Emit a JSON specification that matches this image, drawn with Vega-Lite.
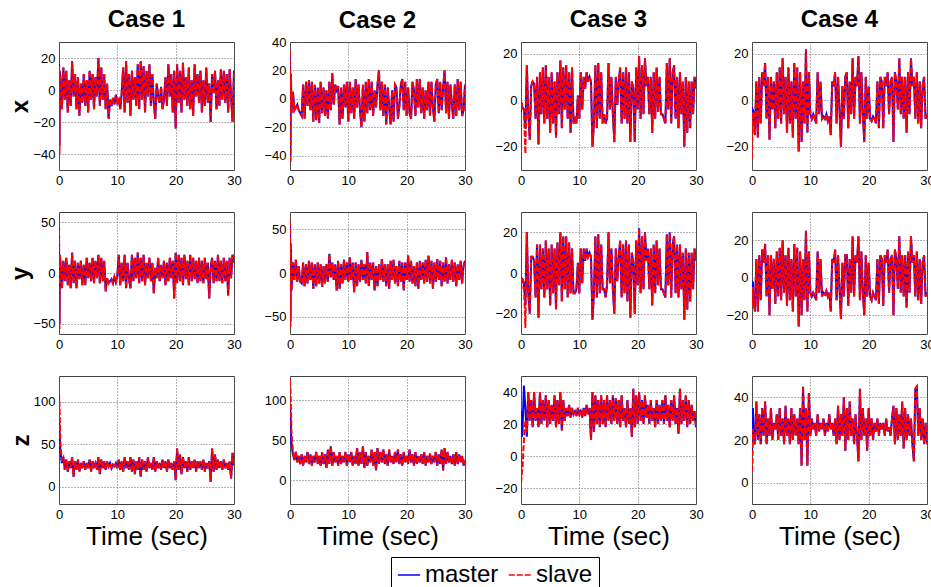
{
"$schema":"https://vega.github.io/schema/vega-lite/v6.json",
"autosize":{"type":"pad"},
"padding":{"left":8,"top":7,"right":0,"bottom":0},
"background":"#ffffff",
"datasets":{
"x1":[{"t":0,"m":20,"s":25},{"t":0.08,"m":-35,"s":-40},{"t":0.16,"m":10,"s":12},
{"t":0.25,"m":8,"s":8},{"t":0.5,"m":-12,"s":-12},{"t":0.75,"m":14,"s":14},{"t":1,"m":-6,"s":-6},{"t":1.25,"m":12,"s":12},{"t":1.5,"m":-14,"s":-14},{"t":1.75,"m":6,"s":6},{"t":2,"m":-10,"s":-10},
{"t":2.25,"m":18,"s":18},{"t":2.5,"m":-4,"s":-4},{"t":2.75,"m":10,"s":10},{"t":3,"m":-12,"s":-12},{"t":3.25,"m":8,"s":8},{"t":3.5,"m":-16,"s":-16},{"t":3.75,"m":4,"s":4},{"t":4,"m":-8,"s":-8},
{"t":4.25,"m":10,"s":10},{"t":4.5,"m":-10,"s":-10},{"t":4.75,"m":6,"s":6},{"t":5,"m":-14,"s":-14},{"t":5.25,"m":12,"s":12},{"t":5.5,"m":-6,"s":-6},{"t":5.75,"m":10,"s":10},{"t":6,"m":-12,"s":-12},
{"t":6.25,"m":8,"s":8},{"t":6.5,"m":-4,"s":-4},{"t":6.75,"m":20,"s":20},{"t":7,"m":-10,"s":-10},{"t":7.25,"m":14,"s":14},{"t":7.5,"m":-6,"s":-6},{"t":7.75,"m":10,"s":10},{"t":8,"m":-12,"s":-12},
{"t":8.25,"m":4,"s":4},{"t":8.5,"m":-18,"s":-18},{"t":8.75,"m":-6,"s":-6},{"t":9,"m":-10,"s":-10},{"t":9.25,"m":-5,"s":-5},{"t":9.5,"m":-9,"s":-9},{"t":9.75,"m":-3,"s":-3},{"t":10,"m":-8,"s":-8},
{"t":10.25,"m":-6,"s":-6},{"t":10.5,"m":-12,"s":-12},{"t":10.75,"m":-2,"s":-2},{"t":11,"m":14,"s":14},{"t":11.25,"m":-14,"s":-14},{"t":11.5,"m":18,"s":18},{"t":11.75,"m":-8,"s":-8},{"t":12,"m":10,"s":10},
{"t":12.25,"m":-16,"s":-16},{"t":12.5,"m":12,"s":12},{"t":12.75,"m":-6,"s":-6},{"t":13,"m":8,"s":8},{"t":13.25,"m":-10,"s":-10},{"t":13.5,"m":16,"s":16},{"t":13.75,"m":-12,"s":-12},{"t":14,"m":18,"s":18},
{"t":14.25,"m":-6,"s":-6},{"t":14.5,"m":15,"s":15},{"t":14.75,"m":-14,"s":-14},{"t":15,"m":12,"s":12},{"t":15.25,"m":-4,"s":-4},{"t":15.5,"m":16,"s":16},{"t":15.75,"m":-10,"s":-10},{"t":16,"m":10,"s":10},
{"t":16.25,"m":-8,"s":-8},{"t":16.5,"m":-18,"s":-18},{"t":16.75,"m":4,"s":4},{"t":17,"m":-4,"s":-4},{"t":17.25,"m":-8,"s":-8},{"t":17.5,"m":2,"s":2},{"t":17.75,"m":-12,"s":-12},{"t":18,"m":-6,"s":-6},
{"t":18.25,"m":8,"s":8},{"t":18.5,"m":-10,"s":-10},{"t":18.75,"m":16,"s":16},{"t":19,"m":-4,"s":-4},{"t":19.25,"m":10,"s":10},{"t":19.5,"m":-14,"s":-14},{"t":19.75,"m":12,"s":12},{"t":20,"m":-24,"s":-24},
{"t":20.25,"m":16,"s":16},{"t":20.5,"m":-8,"s":-8},{"t":20.75,"m":12,"s":12},{"t":21,"m":-14,"s":-14},{"t":21.25,"m":17,"s":17},{"t":21.5,"m":-6,"s":-6},{"t":21.75,"m":8,"s":8},{"t":22,"m":-10,"s":-10},
{"t":22.25,"m":14,"s":14},{"t":22.5,"m":-12,"s":-12},{"t":22.75,"m":6,"s":6},{"t":23,"m":-16,"s":-16},{"t":23.25,"m":16,"s":16},{"t":23.5,"m":-4,"s":-4},{"t":23.75,"m":10,"s":10},{"t":24,"m":-8,"s":-8},
{"t":24.25,"m":12,"s":12},{"t":24.5,"m":-14,"s":-14},{"t":24.75,"m":6,"s":6},{"t":25,"m":-10,"s":-10},{"t":25.25,"m":14,"s":14},{"t":25.5,"m":-8,"s":-8},{"t":25.75,"m":4,"s":4},{"t":26,"m":-20,"s":-20},
{"t":26.25,"m":10,"s":10},{"t":26.5,"m":-2,"s":-2},{"t":26.75,"m":12,"s":12},{"t":27,"m":-12,"s":-12},{"t":27.25,"m":6,"s":6},{"t":27.5,"m":-10,"s":-10},{"t":27.75,"m":13,"s":13},{"t":28,"m":-6,"s":-6},
{"t":28.25,"m":12,"s":12},{"t":28.5,"m":-8,"s":-8},{"t":28.75,"m":10,"s":10},{"t":29,"m":-14,"s":-14},{"t":29.25,"m":13,"s":13},{"t":29.5,"m":-4,"s":-4},{"t":29.75,"m":-20,"s":-20},{"t":30,"m":12,"s":12}],
"x2":[{"t":0,"m":30,"s":33},{"t":0.08,"m":-40,"s":-45},{"t":0.16,"m":15,"s":18},
{"t":0.25,"m":-10,"s":-10},{"t":0.5,"m":5,"s":5},{"t":0.75,"m":-8,"s":-8},{"t":1,"m":-6,"s":-6},{"t":1.25,"m":-4,"s":-4},{"t":1.5,"m":-8,"s":-8},{"t":1.75,"m":-10,"s":-10},{"t":2,"m":-12,"s":-12},
{"t":2.25,"m":10,"s":10},{"t":2.5,"m":-14,"s":-14},{"t":2.75,"m":12,"s":12},{"t":3,"m":-5,"s":-5},{"t":3.25,"m":13,"s":13},{"t":3.5,"m":-8,"s":-8},{"t":3.75,"m":12,"s":12},{"t":4,"m":-16,"s":-16},
{"t":4.25,"m":10,"s":10},{"t":4.5,"m":-15,"s":-15},{"t":4.75,"m":8,"s":8},{"t":5,"m":-17,"s":-17},{"t":5.25,"m":12,"s":12},{"t":5.5,"m":-10,"s":-10},{"t":5.75,"m":8,"s":8},{"t":6,"m":-12,"s":-12},
{"t":6.25,"m":6,"s":6},{"t":6.5,"m":-14,"s":-14},{"t":6.75,"m":12,"s":12},{"t":7,"m":-8,"s":-8},{"t":7.25,"m":18,"s":18},{"t":7.5,"m":-4,"s":-4},{"t":7.75,"m":10,"s":10},{"t":8,"m":6,"s":6},
{"t":8.25,"m":9,"s":9},{"t":8.5,"m":-18,"s":-18},{"t":8.75,"m":8,"s":8},{"t":9,"m":-14,"s":-14},{"t":9.25,"m":10,"s":10},{"t":9.5,"m":-6,"s":-6},{"t":9.75,"m":12,"s":12},{"t":10,"m":-16,"s":-16},
{"t":10.25,"m":12,"s":12},{"t":10.5,"m":-10,"s":-10},{"t":10.75,"m":8,"s":8},{"t":11,"m":-14,"s":-14},{"t":11.25,"m":14,"s":14},{"t":11.5,"m":-6,"s":-6},{"t":11.75,"m":10,"s":10},{"t":12,"m":-8,"s":-8},
{"t":12.25,"m":-20,"s":-20},{"t":12.5,"m":10,"s":10},{"t":12.75,"m":-16,"s":-16},{"t":13,"m":12,"s":12},{"t":13.25,"m":-10,"s":-10},{"t":13.5,"m":14,"s":14},{"t":13.75,"m":-8,"s":-8},{"t":14,"m":12,"s":12},
{"t":14.25,"m":-12,"s":-12},{"t":14.5,"m":6,"s":6},{"t":14.75,"m":-6,"s":-6},{"t":15,"m":10,"s":10},{"t":15.25,"m":20,"s":20},{"t":15.5,"m":-8,"s":-8},{"t":15.75,"m":12,"s":12},{"t":16,"m":-12,"s":-12},
{"t":16.25,"m":10,"s":10},{"t":16.5,"m":-18,"s":-18},{"t":16.75,"m":8,"s":8},{"t":17,"m":-6,"s":-6},{"t":17.25,"m":-18,"s":-18},{"t":17.5,"m":6,"s":6},{"t":17.75,"m":-16,"s":-16},{"t":18,"m":10,"s":10},
{"t":18.25,"m":8,"s":8},{"t":18.5,"m":-14,"s":-14},{"t":18.75,"m":-5,"s":-5},{"t":19,"m":10,"s":10},{"t":19.25,"m":14,"s":14},{"t":19.5,"m":-8,"s":-8},{"t":19.75,"m":12,"s":12},{"t":20,"m":-12,"s":-12},
{"t":20.25,"m":8,"s":8},{"t":20.5,"m":-10,"s":-10},{"t":20.75,"m":-14,"s":-14},{"t":21,"m":12,"s":12},{"t":21.25,"m":6,"s":6},{"t":21.5,"m":-12,"s":-12},{"t":21.75,"m":14,"s":14},{"t":22,"m":-6,"s":-6},
{"t":22.25,"m":14,"s":14},{"t":22.5,"m":-10,"s":-10},{"t":22.75,"m":8,"s":8},{"t":23,"m":-14,"s":-14},{"t":23.25,"m":6,"s":6},{"t":23.5,"m":-8,"s":-8},{"t":23.75,"m":12,"s":12},{"t":24,"m":-12,"s":-12},
{"t":24.25,"m":12,"s":12},{"t":24.5,"m":-6,"s":-6},{"t":24.75,"m":-16,"s":-16},{"t":25,"m":10,"s":10},{"t":25.25,"m":14,"s":14},{"t":25.5,"m":-10,"s":-10},{"t":25.75,"m":12,"s":12},{"t":26,"m":-8,"s":-8},
{"t":26.25,"m":8,"s":8},{"t":26.5,"m":20,"s":20},{"t":26.75,"m":-10,"s":-10},{"t":27,"m":12,"s":12},{"t":27.25,"m":-14,"s":-14},{"t":27.5,"m":10,"s":10},{"t":27.75,"m":-4,"s":-4},{"t":28,"m":-14,"s":-14},
{"t":28.25,"m":10,"s":10},{"t":28.5,"m":-12,"s":-12},{"t":28.75,"m":14,"s":14},{"t":29,"m":-8,"s":-8},{"t":29.25,"m":12,"s":12},{"t":29.5,"m":-12,"s":-12},{"t":29.75,"m":-8,"s":-8},{"t":30,"m":10,"s":10}],
"x3":[{"t":0,"m":-5,"s":-2},{"t":0.08,"m":-2,"s":-4},{"t":0.16,"m":-3,"s":-1},
{"t":0.25,"m":-3,"s":-3},{"t":0.5,"m":-4,"s":-4},{"t":0.75,"m":-12,"s":-23},{"t":1,"m":15,"s":15},{"t":1.25,"m":-6,"s":-6},{"t":1.5,"m":-17,"s":-17},{"t":1.75,"m":6,"s":6},{"t":2,"m":8,"s":8},
{"t":2.25,"m":7,"s":7},{"t":2.5,"m":-8,"s":-8},{"t":2.75,"m":10,"s":10},{"t":3,"m":-19,"s":-19},{"t":3.25,"m":12,"s":12},{"t":3.5,"m":-6,"s":-6},{"t":3.75,"m":14,"s":14},{"t":4,"m":-10,"s":-10},
{"t":4.25,"m":15,"s":15},{"t":4.5,"m":-8,"s":-8},{"t":4.75,"m":10,"s":10},{"t":5,"m":-14,"s":-14},{"t":5.25,"m":12,"s":12},{"t":5.5,"m":-10,"s":-10},{"t":5.75,"m":8,"s":8},{"t":6,"m":-16,"s":-16},
{"t":6.25,"m":12,"s":12},{"t":6.5,"m":-6,"s":-6},{"t":6.75,"m":17,"s":17},{"t":7,"m":-12,"s":-12},{"t":7.25,"m":14,"s":14},{"t":7.5,"m":-4,"s":-4},{"t":7.75,"m":15,"s":15},{"t":8,"m":-8,"s":-8},
{"t":8.25,"m":12,"s":12},{"t":8.5,"m":-14,"s":-14},{"t":8.75,"m":14,"s":14},{"t":9,"m":-10,"s":-10},{"t":9.25,"m":-8,"s":-8},{"t":9.5,"m":-10,"s":-10},{"t":9.75,"m":2,"s":2},{"t":10,"m":-8,"s":-8},
{"t":10.25,"m":12,"s":12},{"t":10.5,"m":-4,"s":-4},{"t":10.75,"m":10,"s":10},{"t":11,"m":5,"s":5},{"t":11.25,"m":12,"s":12},{"t":11.5,"m":8,"s":8},{"t":11.75,"m":10,"s":10},{"t":12,"m":8,"s":8},
{"t":12.25,"m":-20,"s":-20},{"t":12.5,"m":-10,"s":-10},{"t":12.75,"m":15,"s":15},{"t":13,"m":-12,"s":-12},{"t":13.25,"m":16,"s":16},{"t":13.5,"m":-8,"s":-8},{"t":13.75,"m":12,"s":12},{"t":14,"m":-10,"s":-10},
{"t":14.25,"m":-6,"s":-6},{"t":14.5,"m":-10,"s":-10},{"t":14.75,"m":-8,"s":-8},{"t":15,"m":16,"s":16},{"t":15.25,"m":-4,"s":-4},{"t":15.5,"m":10,"s":10},{"t":15.75,"m":-6,"s":-6},{"t":16,"m":-18,"s":-18},
{"t":16.25,"m":10,"s":10},{"t":16.5,"m":-2,"s":-2},{"t":16.75,"m":8,"s":8},{"t":17,"m":14,"s":14},{"t":17.25,"m":-10,"s":-10},{"t":17.5,"m":12,"s":12},{"t":17.75,"m":-8,"s":-8},{"t":18,"m":14,"s":14},
{"t":18.25,"m":-10,"s":-10},{"t":18.5,"m":12,"s":12},{"t":18.75,"m":-18,"s":-18},{"t":19,"m":8,"s":8},{"t":19.25,"m":5,"s":5},{"t":19.5,"m":-18,"s":-18},{"t":19.75,"m":14,"s":14},{"t":20,"m":-4,"s":-4},
{"t":20.25,"m":19,"s":19},{"t":20.5,"m":-8,"s":-8},{"t":20.75,"m":15,"s":15},{"t":21,"m":-6,"s":-6},{"t":21.25,"m":18,"s":18},{"t":21.5,"m":6,"s":6},{"t":21.75,"m":10,"s":10},{"t":22,"m":-6,"s":-6},
{"t":22.25,"m":10,"s":10},{"t":22.5,"m":-14,"s":-14},{"t":22.75,"m":12,"s":12},{"t":23,"m":-8,"s":-8},{"t":23.25,"m":14,"s":14},{"t":23.5,"m":-5,"s":-5},{"t":23.75,"m":10,"s":10},{"t":24,"m":-6,"s":-6},
{"t":24.25,"m":-6,"s":-6},{"t":24.5,"m":-8,"s":-8},{"t":24.75,"m":-10,"s":-10},{"t":25,"m":16,"s":16},{"t":25.25,"m":-4,"s":-4},{"t":25.5,"m":18,"s":18},{"t":25.75,"m":-10,"s":-10},{"t":26,"m":12,"s":12},
{"t":26.25,"m":15,"s":15},{"t":26.5,"m":-8,"s":-8},{"t":26.75,"m":10,"s":10},{"t":27,"m":-12,"s":-12},{"t":27.25,"m":12,"s":12},{"t":27.5,"m":-6,"s":-6},{"t":27.75,"m":8,"s":8},{"t":28,"m":-20,"s":-20},
{"t":28.25,"m":10,"s":10},{"t":28.5,"m":-14,"s":-14},{"t":28.75,"m":8,"s":8},{"t":29,"m":-12,"s":-12},{"t":29.25,"m":8,"s":8},{"t":29.5,"m":-6,"s":-6},{"t":29.75,"m":10,"s":10},{"t":30,"m":5,"s":5}],
"x4":[{"t":0,"m":-3,"s":-25},{"t":0.08,"m":-5,"s":-12},{"t":0.16,"m":-4,"s":-6},
{"t":0.25,"m":-5,"s":-5},{"t":0.5,"m":-15,"s":-15},{"t":0.75,"m":8,"s":8},{"t":1,"m":-16,"s":-16},{"t":1.25,"m":10,"s":10},{"t":1.5,"m":-10,"s":-10},{"t":1.75,"m":12,"s":12},{"t":2,"m":6,"s":6},
{"t":2.25,"m":16,"s":16},{"t":2.5,"m":-8,"s":-8},{"t":2.75,"m":10,"s":10},{"t":3,"m":-17,"s":-17},{"t":3.25,"m":10,"s":10},{"t":3.5,"m":-4,"s":-4},{"t":3.75,"m":8,"s":8},{"t":4,"m":-12,"s":-12},
{"t":4.25,"m":12,"s":12},{"t":4.5,"m":-8,"s":-8},{"t":4.75,"m":14,"s":14},{"t":5,"m":-10,"s":-10},{"t":5.25,"m":18,"s":18},{"t":5.5,"m":-6,"s":-6},{"t":5.75,"m":10,"s":10},{"t":6,"m":-14,"s":-14},
{"t":6.25,"m":14,"s":14},{"t":6.5,"m":-10,"s":-10},{"t":6.75,"m":8,"s":8},{"t":7,"m":-16,"s":-16},{"t":7.25,"m":16,"s":16},{"t":7.5,"m":-8,"s":-8},{"t":7.75,"m":14,"s":14},{"t":8,"m":-22,"s":-22},
{"t":8.25,"m":12,"s":12},{"t":8.5,"m":-18,"s":-18},{"t":8.75,"m":8,"s":8},{"t":9,"m":-10,"s":-10},{"t":9.25,"m":21,"s":22},{"t":9.5,"m":-14,"s":-14},{"t":9.75,"m":12,"s":12},{"t":10,"m":-6,"s":-6},
{"t":10.25,"m":-8,"s":-8},{"t":10.5,"m":-6,"s":-6},{"t":10.75,"m":-8,"s":-8},{"t":11,"m":-10,"s":-10},{"t":11.25,"m":12,"s":12},{"t":11.5,"m":-6,"s":-6},{"t":11.75,"m":8,"s":8},{"t":12,"m":-8,"s":-8},
{"t":12.25,"m":-7,"s":-7},{"t":12.5,"m":-8,"s":-8},{"t":12.75,"m":-6,"s":-6},{"t":13,"m":-9,"s":-9},{"t":13.25,"m":-7,"s":-7},{"t":13.5,"m":-15,"s":-15},{"t":13.75,"m":8,"s":8},{"t":14,"m":6,"s":6},
{"t":14.25,"m":12,"s":12},{"t":14.5,"m":-10,"s":-10},{"t":14.75,"m":10,"s":10},{"t":15,"m":-4,"s":-4},{"t":15.25,"m":-20,"s":-20},{"t":15.5,"m":6,"s":6},{"t":15.75,"m":-8,"s":-8},{"t":16,"m":10,"s":10},
{"t":16.25,"m":12,"s":12},{"t":16.5,"m":-12,"s":-12},{"t":16.75,"m":8,"s":8},{"t":17,"m":-6,"s":-6},{"t":17.25,"m":18,"s":18},{"t":17.5,"m":-8,"s":-8},{"t":17.75,"m":10,"s":10},{"t":18,"m":6,"s":6},
{"t":18.25,"m":19,"s":19},{"t":18.5,"m":-10,"s":-10},{"t":18.75,"m":12,"s":12},{"t":19,"m":-6,"s":-6},{"t":19.25,"m":-18,"s":-18},{"t":19.5,"m":10,"s":10},{"t":19.75,"m":-8,"s":-8},{"t":20,"m":6,"s":6},
{"t":20.25,"m":-8,"s":-8},{"t":20.5,"m":-9,"s":-9},{"t":20.75,"m":-7,"s":-7},{"t":21,"m":-8,"s":-8},{"t":21.25,"m":-10,"s":-10},{"t":21.5,"m":8,"s":8},{"t":21.75,"m":-12,"s":-12},{"t":22,"m":10,"s":10},
{"t":22.25,"m":8,"s":8},{"t":22.5,"m":-12,"s":-12},{"t":22.75,"m":10,"s":10},{"t":23,"m":6,"s":6},{"t":23.25,"m":12,"s":12},{"t":23.5,"m":-6,"s":-6},{"t":23.75,"m":8,"s":8},{"t":24,"m":10,"s":10},
{"t":24.25,"m":-18,"s":-18},{"t":24.5,"m":12,"s":12},{"t":24.75,"m":8,"s":8},{"t":25,"m":-4,"s":-4},{"t":25.25,"m":18,"s":18},{"t":25.5,"m":-6,"s":-6},{"t":25.75,"m":10,"s":10},{"t":26,"m":-8,"s":-8},
{"t":26.25,"m":10,"s":10},{"t":26.5,"m":-14,"s":-14},{"t":26.75,"m":12,"s":12},{"t":27,"m":-6,"s":-6},{"t":27.25,"m":18,"s":18},{"t":27.5,"m":6,"s":6},{"t":27.75,"m":10,"s":10},{"t":28,"m":-8,"s":-8},
{"t":28.25,"m":12,"s":12},{"t":28.5,"m":-10,"s":-10},{"t":28.75,"m":8,"s":8},{"t":29,"m":-12,"s":-12},{"t":29.25,"m":6,"s":6},{"t":29.5,"m":10,"s":10},{"t":29.75,"m":-8,"s":-8},{"t":30,"m":-6,"s":-6}],
"y1":[{"t":0,"m":45,"s":50},{"t":0.08,"m":-50,"s":-55},{"t":0.16,"m":15,"s":18},
{"t":0.25,"m":10,"s":10},{"t":0.5,"m":-15,"s":-15},{"t":0.75,"m":12,"s":12},{"t":1,"m":-8,"s":-8},{"t":1.25,"m":15,"s":15},{"t":1.5,"m":-12,"s":-12},{"t":1.75,"m":8,"s":8},{"t":2,"m":-15,"s":-15},
{"t":2.25,"m":20,"s":20},{"t":2.5,"m":-10,"s":-10},{"t":2.75,"m":12,"s":12},{"t":3,"m":-15,"s":-15},{"t":3.25,"m":10,"s":10},{"t":3.5,"m":-6,"s":-6},{"t":3.75,"m":12,"s":12},{"t":4,"m":-12,"s":-12},
{"t":4.25,"m":8,"s":8},{"t":4.5,"m":-12,"s":-12},{"t":4.75,"m":15,"s":15},{"t":5,"m":-5,"s":-5},{"t":5.25,"m":10,"s":10},{"t":5.5,"m":-8,"s":-8},{"t":5.75,"m":15,"s":15},{"t":6,"m":-10,"s":-10},
{"t":6.25,"m":12,"s":12},{"t":6.5,"m":-5,"s":-5},{"t":6.75,"m":18,"s":18},{"t":7,"m":-10,"s":-10},{"t":7.25,"m":15,"s":15},{"t":7.5,"m":-8,"s":-8},{"t":7.75,"m":12,"s":12},{"t":8,"m":-18,"s":-18},
{"t":8.25,"m":-5,"s":-5},{"t":8.5,"m":-10,"s":-10},{"t":8.75,"m":-8,"s":-8},{"t":9,"m":-6,"s":-6},{"t":9.25,"m":-10,"s":-10},{"t":9.5,"m":-4,"s":-4},{"t":9.75,"m":-9,"s":-9},{"t":10,"m":-3,"s":-3},
{"t":10.25,"m":18,"s":18},{"t":10.5,"m":-12,"s":-12},{"t":10.75,"m":10,"s":10},{"t":11,"m":-8,"s":-8},{"t":11.25,"m":18,"s":18},{"t":11.5,"m":-15,"s":-15},{"t":11.75,"m":10,"s":10},{"t":12,"m":-6,"s":-6},
{"t":12.25,"m":-15,"s":-15},{"t":12.5,"m":18,"s":18},{"t":12.75,"m":-8,"s":-8},{"t":13,"m":15,"s":15},{"t":13.25,"m":-5,"s":-5},{"t":13.5,"m":20,"s":20},{"t":13.75,"m":-10,"s":-10},{"t":14,"m":15,"s":15},
{"t":14.25,"m":-8,"s":-8},{"t":14.5,"m":18,"s":18},{"t":14.75,"m":-12,"s":-12},{"t":15,"m":10,"s":10},{"t":15.25,"m":-5,"s":-5},{"t":15.5,"m":15,"s":15},{"t":15.75,"m":-8,"s":-8},{"t":16,"m":10,"s":10},
{"t":16.25,"m":-20,"s":-20},{"t":16.5,"m":5,"s":5},{"t":16.75,"m":-5,"s":-5},{"t":17,"m":15,"s":15},{"t":17.25,"m":-8,"s":-8},{"t":17.5,"m":8,"s":8},{"t":17.75,"m":-5,"s":-5},{"t":18,"m":12,"s":12},
{"t":18.25,"m":-12,"s":-12},{"t":18.5,"m":10,"s":10},{"t":18.75,"m":-8,"s":-8},{"t":19,"m":15,"s":15},{"t":19.25,"m":-5,"s":-5},{"t":19.5,"m":12,"s":12},{"t":19.75,"m":-25,"s":-25},{"t":20,"m":20,"s":20},
{"t":20.25,"m":-10,"s":-10},{"t":20.5,"m":18,"s":18},{"t":20.75,"m":-8,"s":-8},{"t":21,"m":15,"s":15},{"t":21.25,"m":-12,"s":-12},{"t":21.5,"m":18,"s":18},{"t":21.75,"m":-6,"s":-6},{"t":22,"m":12,"s":12},
{"t":22.25,"m":-12,"s":-12},{"t":22.5,"m":18,"s":18},{"t":22.75,"m":-8,"s":-8},{"t":23,"m":15,"s":15},{"t":23.25,"m":-6,"s":-6},{"t":23.5,"m":12,"s":12},{"t":23.75,"m":-10,"s":-10},{"t":24,"m":15,"s":15},
{"t":24.25,"m":-8,"s":-8},{"t":24.5,"m":12,"s":12},{"t":24.75,"m":-10,"s":-10},{"t":25,"m":15,"s":15},{"t":25.25,"m":-6,"s":-6},{"t":25.5,"m":10,"s":10},{"t":25.75,"m":-25,"s":-25},{"t":26,"m":5,"s":5},
{"t":26.25,"m":15,"s":15},{"t":26.5,"m":-10,"s":-10},{"t":26.75,"m":12,"s":12},{"t":27,"m":-8,"s":-8},{"t":27.25,"m":18,"s":18},{"t":27.5,"m":-8,"s":-8},{"t":27.75,"m":12,"s":12},{"t":28,"m":-10,"s":-10},
{"t":28.25,"m":15,"s":15},{"t":28.5,"m":-8,"s":-8},{"t":28.75,"m":12,"s":12},{"t":29,"m":-22,"s":-22},{"t":29.25,"m":15,"s":15},{"t":29.5,"m":-5,"s":-5},{"t":29.75,"m":18,"s":18},{"t":30,"m":10,"s":10}],
"y2":[{"t":0,"m":55,"s":60},{"t":0.08,"m":-55,"s":-62},{"t":0.16,"m":30,"s":35},
{"t":0.25,"m":-20,"s":-20},{"t":0.5,"m":12,"s":12},{"t":0.75,"m":-8,"s":-8},{"t":1,"m":15,"s":15},{"t":1.25,"m":-10,"s":-10},{"t":1.5,"m":8,"s":8},{"t":1.75,"m":-10,"s":-10},{"t":2,"m":-12,"s":-12},
{"t":2.25,"m":12,"s":12},{"t":2.5,"m":-15,"s":-15},{"t":2.75,"m":10,"s":10},{"t":3,"m":-12,"s":-12},{"t":3.25,"m":14,"s":14},{"t":3.5,"m":-8,"s":-8},{"t":3.75,"m":12,"s":12},{"t":4,"m":-18,"s":-18},
{"t":4.25,"m":10,"s":10},{"t":4.5,"m":-15,"s":-15},{"t":4.75,"m":12,"s":12},{"t":5,"m":-12,"s":-12},{"t":5.25,"m":10,"s":10},{"t":5.5,"m":-16,"s":-16},{"t":5.75,"m":8,"s":8},{"t":6,"m":-12,"s":-12},
{"t":6.25,"m":10,"s":10},{"t":6.5,"m":-10,"s":-10},{"t":6.75,"m":22,"s":22},{"t":7,"m":-5,"s":-5},{"t":7.25,"m":12,"s":12},{"t":7.5,"m":-8,"s":-8},{"t":7.75,"m":10,"s":10},{"t":8,"m":-20,"s":-20},
{"t":8.25,"m":14,"s":14},{"t":8.5,"m":-18,"s":-18},{"t":8.75,"m":10,"s":10},{"t":9,"m":-12,"s":-12},{"t":9.25,"m":15,"s":15},{"t":9.5,"m":-8,"s":-8},{"t":9.75,"m":12,"s":12},{"t":10,"m":-10,"s":-10},
{"t":10.25,"m":18,"s":18},{"t":10.5,"m":-8,"s":-8},{"t":10.75,"m":12,"s":12},{"t":11,"m":-22,"s":-22},{"t":11.25,"m":12,"s":12},{"t":11.5,"m":-15,"s":-15},{"t":11.75,"m":10,"s":10},{"t":12,"m":-10,"s":-10},
{"t":12.25,"m":15,"s":15},{"t":12.5,"m":-8,"s":-8},{"t":12.75,"m":10,"s":10},{"t":13,"m":-12,"s":-12},{"t":13.25,"m":24,"s":24},{"t":13.5,"m":-15,"s":-15},{"t":13.75,"m":12,"s":12},{"t":14,"m":-8,"s":-8},
{"t":14.25,"m":12,"s":12},{"t":14.5,"m":-20,"s":-20},{"t":14.75,"m":8,"s":8},{"t":15,"m":-15,"s":-15},{"t":15.25,"m":10,"s":10},{"t":15.5,"m":-8,"s":-8},{"t":15.75,"m":16,"s":16},{"t":16,"m":-10,"s":-10},
{"t":16.25,"m":10,"s":10},{"t":16.5,"m":-15,"s":-15},{"t":16.75,"m":10,"s":10},{"t":17,"m":-18,"s":-18},{"t":17.25,"m":14,"s":14},{"t":17.5,"m":-8,"s":-8},{"t":17.75,"m":15,"s":15},{"t":18,"m":-12,"s":-12},
{"t":18.25,"m":8,"s":8},{"t":18.5,"m":-15,"s":-15},{"t":18.75,"m":14,"s":14},{"t":19,"m":-10,"s":-10},{"t":19.25,"m":12,"s":12},{"t":19.5,"m":-20,"s":-20},{"t":19.75,"m":12,"s":12},{"t":20,"m":-8,"s":-8},
{"t":20.25,"m":20,"s":20},{"t":20.5,"m":-10,"s":-10},{"t":20.75,"m":14,"s":14},{"t":21,"m":-12,"s":-12},{"t":21.25,"m":8,"s":8},{"t":21.5,"m":-15,"s":-15},{"t":21.75,"m":12,"s":12},{"t":22,"m":-18,"s":-18},
{"t":22.25,"m":14,"s":14},{"t":22.5,"m":-8,"s":-8},{"t":22.75,"m":12,"s":12},{"t":23,"m":-12,"s":-12},{"t":23.25,"m":15,"s":15},{"t":23.5,"m":-10,"s":-10},{"t":23.75,"m":20,"s":20},{"t":24,"m":-12,"s":-12},
{"t":24.25,"m":14,"s":14},{"t":24.5,"m":-18,"s":-18},{"t":24.75,"m":12,"s":12},{"t":25,"m":-10,"s":-10},{"t":25.25,"m":16,"s":16},{"t":25.5,"m":-8,"s":-8},{"t":25.75,"m":14,"s":14},{"t":26,"m":-15,"s":-15},
{"t":26.25,"m":12,"s":12},{"t":26.5,"m":-10,"s":-10},{"t":26.75,"m":18,"s":18},{"t":27,"m":-12,"s":-12},{"t":27.25,"m":10,"s":10},{"t":27.5,"m":-8,"s":-8},{"t":27.75,"m":15,"s":15},{"t":28,"m":-10,"s":-10},
{"t":28.25,"m":12,"s":12},{"t":28.5,"m":-15,"s":-15},{"t":28.75,"m":10,"s":10},{"t":29,"m":-8,"s":-8},{"t":29.25,"m":14,"s":14},{"t":29.5,"m":-12,"s":-12},{"t":29.75,"m":8,"s":8},{"t":30,"m":14,"s":14}],
"y3":[{"t":0,"m":-2,"s":-3},{"t":0.08,"m":-5,"s":-8},{"t":0.16,"m":-3,"s":-2},
{"t":0.25,"m":-3,"s":-3},{"t":0.5,"m":-5,"s":-5},{"t":0.75,"m":-15,"s":-27},{"t":1,"m":20,"s":20},{"t":1.25,"m":-10,"s":-10},{"t":1.5,"m":-20,"s":-20},{"t":1.75,"m":8,"s":8},{"t":2,"m":8,"s":8},
{"t":2.25,"m":6,"s":6},{"t":2.5,"m":-12,"s":-12},{"t":2.75,"m":14,"s":14},{"t":3,"m":-22,"s":-22},{"t":3.25,"m":14,"s":14},{"t":3.5,"m":-8,"s":-8},{"t":3.75,"m":12,"s":12},{"t":4,"m":-12,"s":-12},
{"t":4.25,"m":16,"s":16},{"t":4.5,"m":-8,"s":-8},{"t":4.75,"m":12,"s":12},{"t":5,"m":-16,"s":-16},{"t":5.25,"m":14,"s":14},{"t":5.5,"m":-10,"s":-10},{"t":5.75,"m":12,"s":12},{"t":6,"m":-18,"s":-18},
{"t":6.25,"m":15,"s":15},{"t":6.5,"m":-6,"s":-6},{"t":6.75,"m":20,"s":20},{"t":7,"m":-14,"s":-14},{"t":7.25,"m":18,"s":18},{"t":7.5,"m":-8,"s":-8},{"t":7.75,"m":18,"s":18},{"t":8,"m":-12,"s":-12},
{"t":8.25,"m":15,"s":15},{"t":8.5,"m":-10,"s":-10},{"t":8.75,"m":12,"s":12},{"t":9,"m":-10,"s":-10},{"t":9.25,"m":-10,"s":-10},{"t":9.5,"m":-8,"s":-8},{"t":9.75,"m":5,"s":5},{"t":10,"m":-10,"s":-10},
{"t":10.25,"m":12,"s":12},{"t":10.5,"m":-5,"s":-5},{"t":10.75,"m":12,"s":12},{"t":11,"m":6,"s":6},{"t":11.25,"m":12,"s":12},{"t":11.5,"m":8,"s":8},{"t":11.75,"m":10,"s":10},{"t":12,"m":8,"s":8},
{"t":12.25,"m":-23,"s":-23},{"t":12.5,"m":-10,"s":-10},{"t":12.75,"m":18,"s":18},{"t":13,"m":-12,"s":-12},{"t":13.25,"m":19,"s":19},{"t":13.5,"m":-10,"s":-10},{"t":13.75,"m":14,"s":14},{"t":14,"m":-8,"s":-8},
{"t":14.25,"m":-8,"s":-8},{"t":14.5,"m":-12,"s":-12},{"t":14.75,"m":-6,"s":-6},{"t":15,"m":20,"s":20},{"t":15.25,"m":-5,"s":-5},{"t":15.5,"m":12,"s":12},{"t":15.75,"m":-8,"s":-8},{"t":16,"m":-20,"s":-20},
{"t":16.25,"m":12,"s":12},{"t":16.5,"m":-4,"s":-4},{"t":16.75,"m":8,"s":8},{"t":17,"m":16,"s":16},{"t":17.25,"m":-12,"s":-12},{"t":17.5,"m":14,"s":14},{"t":17.75,"m":-10,"s":-10},{"t":18,"m":16,"s":16},
{"t":18.25,"m":-14,"s":-14},{"t":18.5,"m":14,"s":14},{"t":18.75,"m":-22,"s":-22},{"t":19,"m":10,"s":10},{"t":19.25,"m":5,"s":5},{"t":19.5,"m":-20,"s":-20},{"t":19.75,"m":16,"s":16},{"t":20,"m":-6,"s":-6},
{"t":20.25,"m":22,"s":22},{"t":20.5,"m":-10,"s":-10},{"t":20.75,"m":18,"s":18},{"t":21,"m":-8,"s":-8},{"t":21.25,"m":20,"s":20},{"t":21.5,"m":6,"s":6},{"t":21.75,"m":12,"s":12},{"t":22,"m":-8,"s":-8},
{"t":22.25,"m":12,"s":12},{"t":22.5,"m":-16,"s":-16},{"t":22.75,"m":14,"s":14},{"t":23,"m":-10,"s":-10},{"t":23.25,"m":16,"s":16},{"t":23.5,"m":-6,"s":-6},{"t":23.75,"m":12,"s":12},{"t":24,"m":-8,"s":-8},
{"t":24.25,"m":-8,"s":-8},{"t":24.5,"m":-10,"s":-10},{"t":24.75,"m":-12,"s":-12},{"t":25,"m":19,"s":19},{"t":25.25,"m":-6,"s":-6},{"t":25.5,"m":20,"s":20},{"t":25.75,"m":-12,"s":-12},{"t":26,"m":14,"s":14},
{"t":26.25,"m":18,"s":18},{"t":26.5,"m":-10,"s":-10},{"t":26.75,"m":14,"s":14},{"t":27,"m":-12,"s":-12},{"t":27.25,"m":14,"s":14},{"t":27.5,"m":-8,"s":-8},{"t":27.75,"m":10,"s":10},{"t":28,"m":-23,"s":-23},
{"t":28.25,"m":12,"s":12},{"t":28.5,"m":-18,"s":-18},{"t":28.75,"m":10,"s":10},{"t":29,"m":-14,"s":-14},{"t":29.25,"m":10,"s":10},{"t":29.5,"m":-8,"s":-8},{"t":29.75,"m":12,"s":12},{"t":30,"m":6,"s":6}],
"y4":[{"t":0,"m":-5,"s":-12},{"t":0.08,"m":-10,"s":-15},{"t":0.16,"m":-2,"s":-5},
{"t":0.25,"m":-12,"s":-12},{"t":0.5,"m":-18,"s":-18},{"t":0.75,"m":10,"s":10},{"t":1,"m":-18,"s":-18},{"t":1.25,"m":12,"s":12},{"t":1.5,"m":-12,"s":-12},{"t":1.75,"m":15,"s":15},{"t":2,"m":8,"s":8},
{"t":2.25,"m":18,"s":18},{"t":2.5,"m":-10,"s":-10},{"t":2.75,"m":12,"s":12},{"t":3,"m":-20,"s":-20},{"t":3.25,"m":12,"s":12},{"t":3.5,"m":-6,"s":-6},{"t":3.75,"m":10,"s":10},{"t":4,"m":-14,"s":-14},
{"t":4.25,"m":14,"s":14},{"t":4.5,"m":-10,"s":-10},{"t":4.75,"m":16,"s":16},{"t":5,"m":-12,"s":-12},{"t":5.25,"m":20,"s":20},{"t":5.5,"m":-8,"s":-8},{"t":5.75,"m":12,"s":12},{"t":6,"m":-15,"s":-15},
{"t":6.25,"m":16,"s":16},{"t":6.5,"m":-12,"s":-12},{"t":6.75,"m":10,"s":10},{"t":7,"m":-18,"s":-18},{"t":7.25,"m":18,"s":18},{"t":7.5,"m":-10,"s":-10},{"t":7.75,"m":16,"s":16},{"t":8,"m":-26,"s":-26},
{"t":8.25,"m":14,"s":14},{"t":8.5,"m":-20,"s":-20},{"t":8.75,"m":10,"s":10},{"t":9,"m":-12,"s":-12},{"t":9.25,"m":25,"s":25},{"t":9.5,"m":-18,"s":-18},{"t":9.75,"m":14,"s":14},{"t":10,"m":-8,"s":-8},
{"t":10.25,"m":-10,"s":-10},{"t":10.5,"m":-8,"s":-8},{"t":10.75,"m":-10,"s":-10},{"t":11,"m":-12,"s":-12},{"t":11.25,"m":14,"s":14},{"t":11.5,"m":-8,"s":-8},{"t":11.75,"m":10,"s":10},{"t":12,"m":-10,"s":-10},
{"t":12.25,"m":-8,"s":-8},{"t":12.5,"m":-9,"s":-9},{"t":12.75,"m":-7,"s":-7},{"t":13,"m":-10,"s":-10},{"t":13.25,"m":-8,"s":-8},{"t":13.5,"m":-18,"s":-18},{"t":13.75,"m":10,"s":10},{"t":14,"m":8,"s":8},
{"t":14.25,"m":15,"s":15},{"t":14.5,"m":-12,"s":-12},{"t":14.75,"m":12,"s":12},{"t":15,"m":-6,"s":-6},{"t":15.25,"m":-22,"s":-22},{"t":15.5,"m":8,"s":8},{"t":15.75,"m":-10,"s":-10},{"t":16,"m":12,"s":12},
{"t":16.25,"m":12,"s":12},{"t":16.5,"m":-15,"s":-15},{"t":16.75,"m":10,"s":10},{"t":17,"m":-8,"s":-8},{"t":17.25,"m":22,"s":22},{"t":17.5,"m":-10,"s":-10},{"t":17.75,"m":12,"s":12},{"t":18,"m":8,"s":8},
{"t":18.25,"m":22,"s":22},{"t":18.5,"m":-12,"s":-12},{"t":18.75,"m":14,"s":14},{"t":19,"m":-8,"s":-8},{"t":19.25,"m":-20,"s":-20},{"t":19.5,"m":12,"s":12},{"t":19.75,"m":-10,"s":-10},{"t":20,"m":8,"s":8},
{"t":20.25,"m":-10,"s":-10},{"t":20.5,"m":-12,"s":-12},{"t":20.75,"m":-8,"s":-8},{"t":21,"m":-10,"s":-10},{"t":21.25,"m":-12,"s":-12},{"t":21.5,"m":10,"s":10},{"t":21.75,"m":-14,"s":-14},{"t":22,"m":12,"s":12},
{"t":22.25,"m":10,"s":10},{"t":22.5,"m":-15,"s":-15},{"t":22.75,"m":12,"s":12},{"t":23,"m":8,"s":8},{"t":23.25,"m":15,"s":15},{"t":23.5,"m":-8,"s":-8},{"t":23.75,"m":10,"s":10},{"t":24,"m":12,"s":12},
{"t":24.25,"m":-20,"s":-20},{"t":24.5,"m":15,"s":15},{"t":24.75,"m":10,"s":10},{"t":25,"m":-6,"s":-6},{"t":25.25,"m":22,"s":22},{"t":25.5,"m":-8,"s":-8},{"t":25.75,"m":12,"s":12},{"t":26,"m":-10,"s":-10},
{"t":26.25,"m":12,"s":12},{"t":26.5,"m":-16,"s":-16},{"t":26.75,"m":14,"s":14},{"t":27,"m":-8,"s":-8},{"t":27.25,"m":22,"s":22},{"t":27.5,"m":8,"s":8},{"t":27.75,"m":12,"s":12},{"t":28,"m":-10,"s":-10},
{"t":28.25,"m":14,"s":14},{"t":28.5,"m":-12,"s":-12},{"t":28.75,"m":10,"s":10},{"t":29,"m":-14,"s":-14},{"t":29.25,"m":8,"s":8},{"t":29.5,"m":12,"s":12},{"t":29.75,"m":-10,"s":-10},{"t":30,"m":-8,"s":-8}],
"z1":[{"t":0,"m":80,"s":110},{"t":0.08,"m":68,"s":95},{"t":0.16,"m":55,"s":75},
{"t":0.25,"m":40,"s":48},{"t":0.5,"m":28,"s":32},{"t":0.75,"m":35,"s":35},{"t":1,"m":20,"s":20},{"t":1.25,"m":32,"s":32},{"t":1.5,"m":18,"s":18},{"t":1.75,"m":30,"s":30},{"t":2,"m":22,"s":22},
{"t":2.25,"m":35,"s":35},{"t":2.5,"m":12,"s":12},{"t":2.75,"m":30,"s":30},{"t":3,"m":20,"s":20},{"t":3.25,"m":32,"s":32},{"t":3.5,"m":18,"s":18},{"t":3.75,"m":28,"s":28},{"t":4,"m":22,"s":22},
{"t":4.25,"m":30,"s":30},{"t":4.5,"m":20,"s":20},{"t":4.75,"m":28,"s":28},{"t":5,"m":22,"s":22},{"t":5.25,"m":32,"s":32},{"t":5.5,"m":18,"s":18},{"t":5.75,"m":30,"s":30},{"t":6,"m":24,"s":24},
{"t":6.25,"m":28,"s":28},{"t":6.5,"m":20,"s":20},{"t":6.75,"m":35,"s":35},{"t":7,"m":15,"s":15},{"t":7.25,"m":32,"s":32},{"t":7.5,"m":22,"s":22},{"t":7.75,"m":30,"s":30},{"t":8,"m":20,"s":20},
{"t":8.25,"m":30,"s":30},{"t":8.5,"m":24,"s":24},{"t":8.75,"m":28,"s":28},{"t":9,"m":22,"s":22},{"t":9.25,"m":26,"s":26},{"t":9.5,"m":24,"s":24},{"t":9.75,"m":28,"s":28},{"t":10,"m":22,"s":22},
{"t":10.25,"m":32,"s":32},{"t":10.5,"m":20,"s":20},{"t":10.75,"m":30,"s":30},{"t":11,"m":18,"s":18},{"t":11.25,"m":35,"s":35},{"t":11.5,"m":22,"s":22},{"t":11.75,"m":30,"s":30},{"t":12,"m":20,"s":20},
{"t":12.25,"m":35,"s":35},{"t":12.5,"m":18,"s":18},{"t":12.75,"m":32,"s":32},{"t":13,"m":15,"s":15},{"t":13.25,"m":30,"s":30},{"t":13.5,"m":20,"s":20},{"t":13.75,"m":35,"s":35},{"t":14,"m":12,"s":12},
{"t":14.25,"m":32,"s":32},{"t":14.5,"m":20,"s":20},{"t":14.75,"m":30,"s":30},{"t":15,"m":18,"s":18},{"t":15.25,"m":35,"s":35},{"t":15.5,"m":22,"s":22},{"t":15.75,"m":28,"s":28},{"t":16,"m":20,"s":20},
{"t":16.25,"m":35,"s":35},{"t":16.5,"m":18,"s":18},{"t":16.75,"m":30,"s":30},{"t":17,"m":22,"s":22},{"t":17.25,"m":28,"s":28},{"t":17.5,"m":20,"s":20},{"t":17.75,"m":32,"s":32},{"t":18,"m":22,"s":22},
{"t":18.25,"m":30,"s":30},{"t":18.5,"m":18,"s":18},{"t":18.75,"m":32,"s":32},{"t":19,"m":22,"s":22},{"t":19.25,"m":28,"s":28},{"t":19.5,"m":20,"s":20},{"t":19.75,"m":30,"s":30},{"t":20,"m":8,"s":8},
{"t":20.25,"m":45,"s":45},{"t":20.5,"m":20,"s":20},{"t":20.75,"m":38,"s":38},{"t":21,"m":15,"s":15},{"t":21.25,"m":35,"s":35},{"t":21.5,"m":22,"s":22},{"t":21.75,"m":30,"s":30},{"t":22,"m":18,"s":18},
{"t":22.25,"m":35,"s":35},{"t":22.5,"m":20,"s":20},{"t":22.75,"m":30,"s":30},{"t":23,"m":22,"s":22},{"t":23.25,"m":32,"s":32},{"t":23.5,"m":18,"s":18},{"t":23.75,"m":30,"s":30},{"t":24,"m":22,"s":22},
{"t":24.25,"m":30,"s":30},{"t":24.5,"m":20,"s":20},{"t":24.75,"m":32,"s":32},{"t":25,"m":18,"s":18},{"t":25.25,"m":28,"s":28},{"t":25.5,"m":22,"s":22},{"t":25.75,"m":30,"s":30},{"t":26,"m":6,"s":6},
{"t":26.25,"m":45,"s":45},{"t":26.5,"m":18,"s":18},{"t":26.75,"m":38,"s":38},{"t":27,"m":20,"s":20},{"t":27.25,"m":32,"s":32},{"t":27.5,"m":22,"s":22},{"t":27.75,"m":30,"s":30},{"t":28,"m":20,"s":20},
{"t":28.25,"m":32,"s":32},{"t":28.5,"m":22,"s":22},{"t":28.75,"m":28,"s":28},{"t":29,"m":20,"s":20},{"t":29.25,"m":30,"s":30},{"t":29.5,"m":10,"s":10},{"t":29.75,"m":40,"s":40},{"t":30,"m":25,"s":25}],
"z2":[{"t":0,"m":95,"s":125},{"t":0.08,"m":82,"s":112},{"t":0.16,"m":65,"s":90},
{"t":0.25,"m":45,"s":60},{"t":0.5,"m":32,"s":36},{"t":0.75,"m":25,"s":25},{"t":1,"m":35,"s":35},{"t":1.25,"m":22,"s":22},{"t":1.5,"m":30,"s":30},{"t":1.75,"m":20,"s":20},{"t":2,"m":32,"s":32},
{"t":2.25,"m":18,"s":18},{"t":2.5,"m":30,"s":30},{"t":2.75,"m":22,"s":22},{"t":3,"m":35,"s":35},{"t":3.25,"m":20,"s":20},{"t":3.5,"m":32,"s":32},{"t":3.75,"m":18,"s":18},{"t":4,"m":30,"s":30},
{"t":4.25,"m":22,"s":22},{"t":4.5,"m":35,"s":35},{"t":4.75,"m":20,"s":20},{"t":5,"m":30,"s":30},{"t":5.25,"m":18,"s":18},{"t":5.5,"m":35,"s":35},{"t":5.75,"m":20,"s":20},{"t":6,"m":32,"s":32},
{"t":6.25,"m":15,"s":15},{"t":6.5,"m":38,"s":38},{"t":6.75,"m":20,"s":20},{"t":7,"m":42,"s":42},{"t":7.25,"m":18,"s":18},{"t":7.5,"m":35,"s":35},{"t":7.75,"m":22,"s":22},{"t":8,"m":30,"s":30},
{"t":8.25,"m":18,"s":18},{"t":8.5,"m":35,"s":35},{"t":8.75,"m":20,"s":20},{"t":9,"m":30,"s":30},{"t":9.25,"m":22,"s":22},{"t":9.5,"m":35,"s":35},{"t":9.75,"m":18,"s":18},{"t":10,"m":32,"s":32},
{"t":10.25,"m":22,"s":22},{"t":10.5,"m":35,"s":35},{"t":10.75,"m":18,"s":18},{"t":11,"m":30,"s":30},{"t":11.25,"m":20,"s":20},{"t":11.5,"m":40,"s":40},{"t":11.75,"m":18,"s":18},{"t":12,"m":35,"s":35},
{"t":12.25,"m":20,"s":20},{"t":12.5,"m":42,"s":42},{"t":12.75,"m":15,"s":15},{"t":13,"m":35,"s":35},{"t":13.25,"m":18,"s":18},{"t":13.5,"m":30,"s":30},{"t":13.75,"m":22,"s":22},{"t":14,"m":38,"s":38},
{"t":14.25,"m":18,"s":18},{"t":14.5,"m":35,"s":35},{"t":14.75,"m":12,"s":12},{"t":15,"m":40,"s":40},{"t":15.25,"m":20,"s":20},{"t":15.5,"m":35,"s":35},{"t":15.75,"m":22,"s":22},{"t":16,"m":38,"s":38},
{"t":16.25,"m":20,"s":20},{"t":16.5,"m":32,"s":32},{"t":16.75,"m":18,"s":18},{"t":17,"m":38,"s":38},{"t":17.25,"m":22,"s":22},{"t":17.5,"m":30,"s":30},{"t":17.75,"m":20,"s":20},{"t":18,"m":35,"s":35},
{"t":18.25,"m":22,"s":22},{"t":18.5,"m":38,"s":38},{"t":18.75,"m":20,"s":20},{"t":19,"m":32,"s":32},{"t":19.25,"m":18,"s":18},{"t":19.5,"m":35,"s":35},{"t":19.75,"m":22,"s":22},{"t":20,"m":30,"s":30},
{"t":20.25,"m":20,"s":20},{"t":20.5,"m":38,"s":38},{"t":20.75,"m":22,"s":22},{"t":21,"m":32,"s":32},{"t":21.25,"m":18,"s":18},{"t":21.5,"m":35,"s":35},{"t":21.75,"m":20,"s":20},{"t":22,"m":30,"s":30},
{"t":22.25,"m":22,"s":22},{"t":22.5,"m":32,"s":32},{"t":22.75,"m":20,"s":20},{"t":23,"m":35,"s":35},{"t":23.25,"m":18,"s":18},{"t":23.5,"m":30,"s":30},{"t":23.75,"m":22,"s":22},{"t":24,"m":33,"s":33},
{"t":24.25,"m":20,"s":20},{"t":24.5,"m":30,"s":30},{"t":24.75,"m":22,"s":22},{"t":25,"m":35,"s":35},{"t":25.25,"m":18,"s":18},{"t":25.5,"m":32,"s":32},{"t":25.75,"m":20,"s":20},{"t":26,"m":38,"s":38},
{"t":26.25,"m":12,"s":12},{"t":26.5,"m":40,"s":40},{"t":26.75,"m":20,"s":20},{"t":27,"m":35,"s":35},{"t":27.25,"m":22,"s":22},{"t":27.5,"m":30,"s":30},{"t":27.75,"m":20,"s":20},{"t":28,"m":32,"s":32},
{"t":28.25,"m":18,"s":18},{"t":28.5,"m":35,"s":35},{"t":28.75,"m":20,"s":20},{"t":29,"m":32,"s":32},{"t":29.25,"m":22,"s":22},{"t":29.5,"m":30,"s":30},{"t":29.75,"m":18,"s":18},{"t":30,"m":25,"s":25}],
"z3":[{"t":0,"m":28,"s":-17},{"t":0.08,"m":22,"s":-14},{"t":0.16,"m":12,"s":-10},
{"t":0.25,"m":15,"s":-8},{"t":0.5,"m":44,"s":10},{"t":0.75,"m":30,"s":22},{"t":1,"m":12,"s":15},{"t":1.25,"m":40,"s":40},{"t":1.5,"m":22,"s":22},{"t":1.75,"m":35,"s":35},{"t":2,"m":18,"s":18},
{"t":2.25,"m":40,"s":40},{"t":2.5,"m":22,"s":22},{"t":2.75,"m":30,"s":30},{"t":3,"m":18,"s":18},{"t":3.25,"m":40,"s":40},{"t":3.5,"m":20,"s":20},{"t":3.75,"m":35,"s":35},{"t":4,"m":22,"s":22},
{"t":4.25,"m":38,"s":38},{"t":4.5,"m":18,"s":18},{"t":4.75,"m":35,"s":35},{"t":5,"m":20,"s":20},{"t":5.25,"m":32,"s":32},{"t":5.5,"m":22,"s":22},{"t":5.75,"m":38,"s":38},{"t":6,"m":18,"s":18},
{"t":6.25,"m":35,"s":35},{"t":6.5,"m":20,"s":20},{"t":6.75,"m":40,"s":40},{"t":7,"m":16,"s":16},{"t":7.25,"m":35,"s":35},{"t":7.5,"m":22,"s":22},{"t":7.75,"m":30,"s":30},{"t":8,"m":25,"s":25},
{"t":8.25,"m":32,"s":32},{"t":8.5,"m":24,"s":24},{"t":8.75,"m":30,"s":30},{"t":9,"m":26,"s":26},{"t":9.25,"m":28,"s":28},{"t":9.5,"m":25,"s":25},{"t":9.75,"m":30,"s":30},{"t":10,"m":26,"s":26},
{"t":10.25,"m":28,"s":28},{"t":10.5,"m":24,"s":24},{"t":10.75,"m":30,"s":30},{"t":11,"m":25,"s":25},{"t":11.25,"m":32,"s":32},{"t":11.5,"m":26,"s":26},{"t":11.75,"m":30,"s":30},{"t":12,"m":10,"s":10},
{"t":12.25,"m":40,"s":40},{"t":12.5,"m":15,"s":15},{"t":12.75,"m":38,"s":38},{"t":13,"m":20,"s":20},{"t":13.25,"m":35,"s":35},{"t":13.5,"m":18,"s":18},{"t":13.75,"m":38,"s":38},{"t":14,"m":20,"s":20},
{"t":14.25,"m":35,"s":35},{"t":14.5,"m":18,"s":18},{"t":14.75,"m":38,"s":38},{"t":15,"m":22,"s":22},{"t":15.25,"m":35,"s":35},{"t":15.5,"m":20,"s":20},{"t":15.75,"m":38,"s":38},{"t":16,"m":22,"s":22},
{"t":16.25,"m":36,"s":36},{"t":16.5,"m":20,"s":20},{"t":16.75,"m":35,"s":35},{"t":17,"m":18,"s":18},{"t":17.25,"m":38,"s":38},{"t":17.5,"m":22,"s":22},{"t":17.75,"m":30,"s":30},{"t":18,"m":18,"s":18},
{"t":18.25,"m":35,"s":35},{"t":18.5,"m":20,"s":20},{"t":18.75,"m":30,"s":30},{"t":19,"m":12,"s":12},{"t":19.25,"m":42,"s":42},{"t":19.5,"m":18,"s":18},{"t":19.75,"m":38,"s":38},{"t":20,"m":20,"s":20},
{"t":20.25,"m":40,"s":40},{"t":20.5,"m":22,"s":22},{"t":20.75,"m":35,"s":35},{"t":21,"m":20,"s":20},{"t":21.25,"m":38,"s":38},{"t":21.5,"m":24,"s":24},{"t":21.75,"m":32,"s":32},{"t":22,"m":20,"s":20},
{"t":22.25,"m":35,"s":35},{"t":22.5,"m":22,"s":22},{"t":22.75,"m":30,"s":30},{"t":23,"m":18,"s":18},{"t":23.25,"m":35,"s":35},{"t":23.5,"m":20,"s":20},{"t":23.75,"m":32,"s":32},{"t":24,"m":22,"s":22},
{"t":24.25,"m":35,"s":35},{"t":24.5,"m":20,"s":20},{"t":24.75,"m":38,"s":38},{"t":25,"m":22,"s":22},{"t":25.25,"m":32,"s":32},{"t":25.5,"m":18,"s":18},{"t":25.75,"m":35,"s":35},{"t":26,"m":22,"s":22},
{"t":26.25,"m":38,"s":38},{"t":26.5,"m":20,"s":20},{"t":26.75,"m":30,"s":30},{"t":27,"m":14,"s":14},{"t":27.25,"m":42,"s":42},{"t":27.5,"m":20,"s":20},{"t":27.75,"m":35,"s":35},{"t":28,"m":22,"s":22},
{"t":28.25,"m":38,"s":38},{"t":28.5,"m":18,"s":18},{"t":28.75,"m":35,"s":35},{"t":29,"m":20,"s":20},{"t":29.25,"m":32,"s":32},{"t":29.5,"m":22,"s":22},{"t":29.75,"m":28,"s":28},{"t":30,"m":18,"s":18}],
"z4":[{"t":0,"m":15,"s":5},{"t":0.08,"m":22,"s":10},{"t":0.16,"m":35,"s":25},
{"t":0.25,"m":25,"s":20},{"t":0.5,"m":18,"s":18},{"t":0.75,"m":38,"s":38},{"t":1,"m":20,"s":20},{"t":1.25,"m":32,"s":32},{"t":1.5,"m":18,"s":18},{"t":1.75,"m":35,"s":35},{"t":2,"m":22,"s":22},
{"t":2.25,"m":38,"s":38},{"t":2.5,"m":18,"s":18},{"t":2.75,"m":30,"s":30},{"t":3,"m":22,"s":22},{"t":3.25,"m":35,"s":35},{"t":3.5,"m":20,"s":20},{"t":3.75,"m":28,"s":28},{"t":4,"m":25,"s":25},
{"t":4.25,"m":32,"s":32},{"t":4.5,"m":20,"s":20},{"t":4.75,"m":35,"s":35},{"t":5,"m":22,"s":22},{"t":5.25,"m":30,"s":30},{"t":5.5,"m":18,"s":18},{"t":5.75,"m":36,"s":36},{"t":6,"m":22,"s":22},
{"t":6.25,"m":30,"s":30},{"t":6.5,"m":18,"s":18},{"t":6.75,"m":35,"s":35},{"t":7,"m":20,"s":20},{"t":7.25,"m":32,"s":32},{"t":7.5,"m":22,"s":22},{"t":7.75,"m":30,"s":30},{"t":8,"m":18,"s":18},
{"t":8.25,"m":35,"s":35},{"t":8.5,"m":8,"s":8},{"t":8.75,"m":45,"s":45},{"t":9,"m":20,"s":20},{"t":9.25,"m":35,"s":35},{"t":9.5,"m":8,"s":8},{"t":9.75,"m":42,"s":42},{"t":10,"m":22,"s":22},
{"t":10.25,"m":30,"s":30},{"t":10.5,"m":25,"s":25},{"t":10.75,"m":28,"s":28},{"t":11,"m":22,"s":22},{"t":11.25,"m":32,"s":32},{"t":11.5,"m":24,"s":24},{"t":11.75,"m":28,"s":28},{"t":12,"m":25,"s":25},
{"t":12.25,"m":30,"s":30},{"t":12.5,"m":22,"s":22},{"t":12.75,"m":28,"s":28},{"t":13,"m":24,"s":24},{"t":13.25,"m":32,"s":32},{"t":13.5,"m":25,"s":25},{"t":13.75,"m":28,"s":28},{"t":14,"m":22,"s":22},
{"t":14.25,"m":30,"s":30},{"t":14.5,"m":18,"s":18},{"t":14.75,"m":36,"s":36},{"t":15,"m":20,"s":20},{"t":15.25,"m":32,"s":32},{"t":15.5,"m":22,"s":22},{"t":15.75,"m":40,"s":40},{"t":16,"m":15,"s":15},
{"t":16.25,"m":35,"s":35},{"t":16.5,"m":20,"s":20},{"t":16.75,"m":38,"s":38},{"t":17,"m":22,"s":22},{"t":17.25,"m":30,"s":30},{"t":17.5,"m":18,"s":18},{"t":17.75,"m":32,"s":32},{"t":18,"m":22,"s":22},
{"t":18.25,"m":10,"s":10},{"t":18.5,"m":44,"s":44},{"t":18.75,"m":20,"s":20},{"t":19,"m":35,"s":35},{"t":19.25,"m":22,"s":22},{"t":19.5,"m":30,"s":30},{"t":19.75,"m":15,"s":15},{"t":20,"m":35,"s":35},
{"t":20.25,"m":22,"s":22},{"t":20.5,"m":30,"s":30},{"t":20.75,"m":20,"s":20},{"t":21,"m":28,"s":28},{"t":21.25,"m":24,"s":24},{"t":21.5,"m":30,"s":30},{"t":21.75,"m":22,"s":22},{"t":22,"m":28,"s":28},
{"t":22.25,"m":25,"s":25},{"t":22.5,"m":28,"s":28},{"t":22.75,"m":22,"s":22},{"t":23,"m":30,"s":30},{"t":23.25,"m":24,"s":24},{"t":23.5,"m":26,"s":26},{"t":23.75,"m":22,"s":22},{"t":24,"m":30,"s":30},
{"t":24.25,"m":36,"s":36},{"t":24.5,"m":18,"s":18},{"t":24.75,"m":35,"s":35},{"t":25,"m":20,"s":20},{"t":25.25,"m":32,"s":32},{"t":25.5,"m":22,"s":22},{"t":25.75,"m":38,"s":38},{"t":26,"m":16,"s":16},
{"t":26.25,"m":35,"s":35},{"t":26.5,"m":20,"s":20},{"t":26.75,"m":32,"s":32},{"t":27,"m":22,"s":22},{"t":27.25,"m":30,"s":30},{"t":27.5,"m":18,"s":18},{"t":27.75,"m":10,"s":10},{"t":28,"m":44,"s":44},
{"t":28.25,"m":45,"s":45},{"t":28.5,"m":22,"s":22},{"t":28.75,"m":35,"s":35},{"t":29,"m":20,"s":20},{"t":29.25,"m":30,"s":30},{"t":29.5,"m":18,"s":18},{"t":29.75,"m":28,"s":28},{"t":30,"m":18,"s":18}]
},
"columns":4,
"bounds":"flush",
"spacing":{"row":42,"column":56},
"concat":[
{"title":"Case 1","width":175,"height":128,"data":{"name":"x1"},"transform":[{"fold":["m","s"],"as":["k","val"]}],"mark":{"type":"line","strokeWidth":2,"clip":true},"encoding":{"x":{"field":"t","type":"quantitative","scale":{"domain":[0,30]},"axis":{"values":[0,10,20,30],"title":null}},"y":{"field":"val","type":"quantitative","scale":{"domain":[-50,30]},"axis":{"values":[-40,-20,0,20],"title":"x"}},"color":{"field":"k","type":"nominal","scale":{"domain":["m","s"],"range":["#0000ff","#ff0000"]},"legend":{"orient":"none","legendX":332,"legendY":515,"direction":"horizontal","title":null,"labelExpr":"datum.label == 'm' ? 'master' : 'slave'"}},"strokeDash":{"field":"k","type":"nominal","scale":{"domain":["m","s"],"range":[[1,0],[6,2]]},"legend":{"orient":"none","legendX":332,"legendY":515,"direction":"horizontal","title":null,"labelExpr":"datum.label == 'm' ? 'master' : 'slave'"}}}},
{"title":{"text":"Case 2","offset":3},"width":175,"height":128,"data":{"name":"x2"},"transform":[{"fold":["m","s"],"as":["k","val"]}],"mark":{"type":"line","strokeWidth":2,"clip":true},"encoding":{"x":{"field":"t","type":"quantitative","scale":{"domain":[0,30]},"axis":{"values":[0,10,20,30],"title":null}},"y":{"field":"val","type":"quantitative","scale":{"domain":[-50,40]},"axis":{"values":[-40,-20,0,20,40],"title":null}},"color":{"field":"k","type":"nominal","scale":{"domain":["m","s"],"range":["#0000ff","#ff0000"]},"legend":{"orient":"none","legendX":332,"legendY":515,"direction":"horizontal","title":null,"labelExpr":"datum.label == 'm' ? 'master' : 'slave'"}},"strokeDash":{"field":"k","type":"nominal","scale":{"domain":["m","s"],"range":[[1,0],[6,2]]},"legend":{"orient":"none","legendX":332,"legendY":515,"direction":"horizontal","title":null,"labelExpr":"datum.label == 'm' ? 'master' : 'slave'"}}}},
{"title":"Case 3","width":175,"height":128,"data":{"name":"x3"},"transform":[{"fold":["m","s"],"as":["k","val"]}],"mark":{"type":"line","strokeWidth":2,"clip":true},"encoding":{"x":{"field":"t","type":"quantitative","scale":{"domain":[0,30]},"axis":{"values":[0,10,20,30],"title":null}},"y":{"field":"val","type":"quantitative","scale":{"domain":[-30,25]},"axis":{"values":[-20,0,20],"title":null}},"color":{"field":"k","type":"nominal","scale":{"domain":["m","s"],"range":["#0000ff","#ff0000"]},"legend":{"orient":"none","legendX":332,"legendY":515,"direction":"horizontal","title":null,"labelExpr":"datum.label == 'm' ? 'master' : 'slave'"}},"strokeDash":{"field":"k","type":"nominal","scale":{"domain":["m","s"],"range":[[1,0],[6,2]]},"legend":{"orient":"none","legendX":332,"legendY":515,"direction":"horizontal","title":null,"labelExpr":"datum.label == 'm' ? 'master' : 'slave'"}}}},
{"title":"Case 4","width":175,"height":128,"data":{"name":"x4"},"transform":[{"fold":["m","s"],"as":["k","val"]}],"mark":{"type":"line","strokeWidth":2,"clip":true},"encoding":{"x":{"field":"t","type":"quantitative","scale":{"domain":[0,30]},"axis":{"values":[0,10,20,30],"title":null}},"y":{"field":"val","type":"quantitative","scale":{"domain":[-30,25]},"axis":{"values":[-20,0,20],"title":null}},"color":{"field":"k","type":"nominal","scale":{"domain":["m","s"],"range":["#0000ff","#ff0000"]},"legend":{"orient":"none","legendX":332,"legendY":515,"direction":"horizontal","title":null,"labelExpr":"datum.label == 'm' ? 'master' : 'slave'"}},"strokeDash":{"field":"k","type":"nominal","scale":{"domain":["m","s"],"range":[[1,0],[6,2]]},"legend":{"orient":"none","legendX":332,"legendY":515,"direction":"horizontal","title":null,"labelExpr":"datum.label == 'm' ? 'master' : 'slave'"}}}},
{"width":175,"height":122,"data":{"name":"y1"},"transform":[{"fold":["m","s"],"as":["k","val"]}],"mark":{"type":"line","strokeWidth":2,"clip":true},"encoding":{"x":{"field":"t","type":"quantitative","scale":{"domain":[0,30]},"axis":{"values":[0,10,20,30],"title":null}},"y":{"field":"val","type":"quantitative","scale":{"domain":[-60,60]},"axis":{"values":[-50,0,50],"title":"y"}},"color":{"field":"k","type":"nominal","scale":{"domain":["m","s"],"range":["#0000ff","#ff0000"]},"legend":{"orient":"none","legendX":332,"legendY":515,"direction":"horizontal","title":null,"labelExpr":"datum.label == 'm' ? 'master' : 'slave'"}},"strokeDash":{"field":"k","type":"nominal","scale":{"domain":["m","s"],"range":[[1,0],[6,2]]},"legend":{"orient":"none","legendX":332,"legendY":515,"direction":"horizontal","title":null,"labelExpr":"datum.label == 'm' ? 'master' : 'slave'"}}}},
{"width":175,"height":122,"data":{"name":"y2"},"transform":[{"fold":["m","s"],"as":["k","val"]}],"mark":{"type":"line","strokeWidth":2,"clip":true},"encoding":{"x":{"field":"t","type":"quantitative","scale":{"domain":[0,30]},"axis":{"values":[0,10,20,30],"title":null}},"y":{"field":"val","type":"quantitative","scale":{"domain":[-70,70]},"axis":{"values":[-50,0,50],"title":null}},"color":{"field":"k","type":"nominal","scale":{"domain":["m","s"],"range":["#0000ff","#ff0000"]},"legend":{"orient":"none","legendX":332,"legendY":515,"direction":"horizontal","title":null,"labelExpr":"datum.label == 'm' ? 'master' : 'slave'"}},"strokeDash":{"field":"k","type":"nominal","scale":{"domain":["m","s"],"range":[[1,0],[6,2]]},"legend":{"orient":"none","legendX":332,"legendY":515,"direction":"horizontal","title":null,"labelExpr":"datum.label == 'm' ? 'master' : 'slave'"}}}},
{"width":175,"height":122,"data":{"name":"y3"},"transform":[{"fold":["m","s"],"as":["k","val"]}],"mark":{"type":"line","strokeWidth":2,"clip":true},"encoding":{"x":{"field":"t","type":"quantitative","scale":{"domain":[0,30]},"axis":{"values":[0,10,20,30],"title":null}},"y":{"field":"val","type":"quantitative","scale":{"domain":[-30,30]},"axis":{"values":[-20,0,20],"title":null}},"color":{"field":"k","type":"nominal","scale":{"domain":["m","s"],"range":["#0000ff","#ff0000"]},"legend":{"orient":"none","legendX":332,"legendY":515,"direction":"horizontal","title":null,"labelExpr":"datum.label == 'm' ? 'master' : 'slave'"}},"strokeDash":{"field":"k","type":"nominal","scale":{"domain":["m","s"],"range":[[1,0],[6,2]]},"legend":{"orient":"none","legendX":332,"legendY":515,"direction":"horizontal","title":null,"labelExpr":"datum.label == 'm' ? 'master' : 'slave'"}}}},
{"width":175,"height":122,"data":{"name":"y4"},"transform":[{"fold":["m","s"],"as":["k","val"]}],"mark":{"type":"line","strokeWidth":2,"clip":true},"encoding":{"x":{"field":"t","type":"quantitative","scale":{"domain":[0,30]},"axis":{"values":[0,10,20,30],"title":null}},"y":{"field":"val","type":"quantitative","scale":{"domain":[-30,35]},"axis":{"values":[-20,0,20],"title":null}},"color":{"field":"k","type":"nominal","scale":{"domain":["m","s"],"range":["#0000ff","#ff0000"]},"legend":{"orient":"none","legendX":332,"legendY":515,"direction":"horizontal","title":null,"labelExpr":"datum.label == 'm' ? 'master' : 'slave'"}},"strokeDash":{"field":"k","type":"nominal","scale":{"domain":["m","s"],"range":[[1,0],[6,2]]},"legend":{"orient":"none","legendX":332,"legendY":515,"direction":"horizontal","title":null,"labelExpr":"datum.label == 'm' ? 'master' : 'slave'"}}}},
{"width":175,"height":128,"data":{"name":"z1"},"transform":[{"fold":["m","s"],"as":["k","val"]}],"mark":{"type":"line","strokeWidth":2,"clip":true},"encoding":{"x":{"field":"t","type":"quantitative","scale":{"domain":[0,30]},"axis":{"values":[0,10,20,30],"title":"Time (sec)"}},"y":{"field":"val","type":"quantitative","scale":{"domain":[-20,130]},"axis":{"values":[0,50,100],"title":"z"}},"color":{"field":"k","type":"nominal","scale":{"domain":["m","s"],"range":["#0000ff","#ff0000"]},"legend":{"orient":"none","legendX":332,"legendY":515,"direction":"horizontal","title":null,"labelExpr":"datum.label == 'm' ? 'master' : 'slave'"}},"strokeDash":{"field":"k","type":"nominal","scale":{"domain":["m","s"],"range":[[1,0],[6,2]]},"legend":{"orient":"none","legendX":332,"legendY":515,"direction":"horizontal","title":null,"labelExpr":"datum.label == 'm' ? 'master' : 'slave'"}}}},
{"width":175,"height":128,"data":{"name":"z2"},"transform":[{"fold":["m","s"],"as":["k","val"]}],"mark":{"type":"line","strokeWidth":2,"clip":true},"encoding":{"x":{"field":"t","type":"quantitative","scale":{"domain":[0,30]},"axis":{"values":[0,10,20,30],"title":"Time (sec)"}},"y":{"field":"val","type":"quantitative","scale":{"domain":[-30,130]},"axis":{"values":[0,50,100],"title":null}},"color":{"field":"k","type":"nominal","scale":{"domain":["m","s"],"range":["#0000ff","#ff0000"]},"legend":{"orient":"none","legendX":332,"legendY":515,"direction":"horizontal","title":null,"labelExpr":"datum.label == 'm' ? 'master' : 'slave'"}},"strokeDash":{"field":"k","type":"nominal","scale":{"domain":["m","s"],"range":[[1,0],[6,2]]},"legend":{"orient":"none","legendX":332,"legendY":515,"direction":"horizontal","title":null,"labelExpr":"datum.label == 'm' ? 'master' : 'slave'"}}}},
{"width":175,"height":128,"data":{"name":"z3"},"transform":[{"fold":["m","s"],"as":["k","val"]}],"mark":{"type":"line","strokeWidth":2,"clip":true},"encoding":{"x":{"field":"t","type":"quantitative","scale":{"domain":[0,30]},"axis":{"values":[0,10,20,30],"title":"Time (sec)"}},"y":{"field":"val","type":"quantitative","scale":{"domain":[-30,50]},"axis":{"values":[-20,0,20,40],"title":null}},"color":{"field":"k","type":"nominal","scale":{"domain":["m","s"],"range":["#0000ff","#ff0000"]},"legend":{"orient":"none","legendX":332,"legendY":515,"direction":"horizontal","title":null,"labelExpr":"datum.label == 'm' ? 'master' : 'slave'"}},"strokeDash":{"field":"k","type":"nominal","scale":{"domain":["m","s"],"range":[[1,0],[6,2]]},"legend":{"orient":"none","legendX":332,"legendY":515,"direction":"horizontal","title":null,"labelExpr":"datum.label == 'm' ? 'master' : 'slave'"}}}},
{"width":175,"height":128,"data":{"name":"z4"},"transform":[{"fold":["m","s"],"as":["k","val"]}],"mark":{"type":"line","strokeWidth":2,"clip":true},"encoding":{"x":{"field":"t","type":"quantitative","scale":{"domain":[0,30]},"axis":{"values":[0,10,20,30],"title":"Time (sec)"}},"y":{"field":"val","type":"quantitative","scale":{"domain":[-10,50]},"axis":{"values":[0,20,40],"title":null}},"color":{"field":"k","type":"nominal","scale":{"domain":["m","s"],"range":["#0000ff","#ff0000"]},"legend":{"orient":"none","legendX":332,"legendY":515,"direction":"horizontal","title":null,"labelExpr":"datum.label == 'm' ? 'master' : 'slave'"}},"strokeDash":{"field":"k","type":"nominal","scale":{"domain":["m","s"],"range":[[1,0],[6,2]]},"legend":{"orient":"none","legendX":332,"legendY":515,"direction":"horizontal","title":null,"labelExpr":"datum.label == 'm' ? 'master' : 'slave'"}}}}
],
"config":{
"font":"Liberation Sans",
"view":{"stroke":"#404040","strokeWidth":1},
"axis":{"domain":false,"ticks":false,"grid":true,"gridColor":"#666666","gridDash":[1,2],"gridOpacity":1,"labelFontSize":13,"labelColor":"#000000","labelFont":"Liberation Sans","titleFont":"Liberation Sans","titleColor":"#000000","labelPadding":4,"labelFlush":false},
"axisX":{"titleFontSize":26,"titleFontWeight":"normal","titlePadding":2},
"axisY":{"titleFontSize":24,"titleFontWeight":"bold","titlePadding":0},
"title":{"fontSize":24,"fontWeight":"bold","font":"Liberation Sans","offset":10,"anchor":"middle","frame":"group","color":"#000000"},
"legend":{"strokeColor":"#000000","fillColor":"#ffffff","padding":6,"labelFontSize":24,"labelColor":"#000000","labelFont":"Liberation Sans","symbolType":"stroke","symbolStrokeWidth":1.5,"symbolSize":500,"columnPadding":6,"labelOffset":4}
}
}
